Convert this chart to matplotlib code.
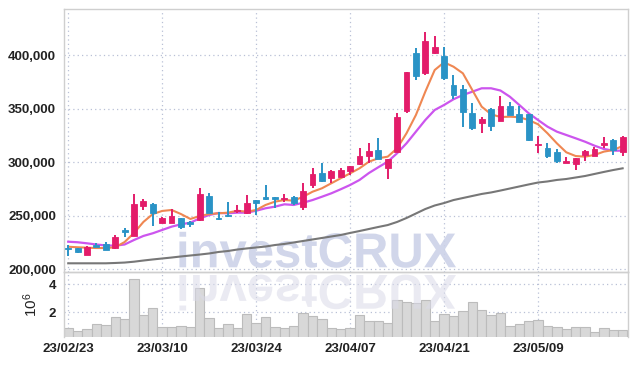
import numpy as np
import pandas as pd
import matplotlib
matplotlib.use("Agg")
import matplotlib.pyplot as plt
from matplotlib.textpath import TextPath
from matplotlib.patches import PathPatch
from matplotlib.font_manager import FontProperties
from matplotlib.transforms import Affine2D
from matplotlib.ticker import FuncFormatter

# trading days (KRX holidays removed)
dates = pd.bdate_range("2023-02-23", "2023-05-22", freq="C",
                       holidays=["2023-03-01", "2023-05-01", "2023-05-05"])

opens = [220100, 219500, 213500, 222600, 223300, 219800, 236700, 231300, 259400, 261000,
         243500, 243500, 247600, 244400, 246000, 268800, 248200, 250700, 254500, 252300,
         264700, 267300, 267300, 265700, 267800, 258500, 278800, 289700, 285100, 286600,
         292200, 298200, 305900, 311500, 295000, 310000, 348300, 402100, 383900, 402100,
         399500, 372400, 368600, 345900, 337100, 349900, 339000, 352700, 345200, 345200,
         316500, 313100, 309700, 299700, 298200, 306900, 306200, 316200, 320900, 309400]
highs = [222600, 220200, 222000, 224800, 225400, 231700, 238800, 270100, 265400, 261500,
         249100, 256000, 248000, 245000, 275700, 271000, 253800, 263200, 260100, 269400,
         265200, 278800, 267800, 270100, 268300, 280400, 294400, 299700, 292500, 294400,
         297000, 313100, 317800, 322500, 303300, 346500, 384800, 407300, 421700, 418300,
         407700, 381700, 372400, 355300, 342700, 350900, 362400, 356200, 352700, 345500,
         324900, 318400, 312800, 305300, 304500, 311600, 314600, 324000, 321500, 324200]
lows = [212300, 215300, 213000, 220500, 217800, 219300, 230400, 231000, 255400, 240700,
        243000, 243000, 237600, 239800, 245500, 252500, 246000, 249100, 252300, 251800,
        250700, 264700, 257000, 263200, 260100, 255400, 276300, 281800, 280400, 286000,
        288100, 297500, 299100, 302900, 284100, 309500, 345900, 377100, 381500, 401500,
        377100, 359000, 332800, 330300, 327200, 329300, 338400, 344000, 337300, 320400,
        308500, 304100, 299100, 299400, 292800, 301000, 305500, 313100, 306900, 305900]
closes = [218600, 215800, 221000, 221000, 218200, 229800, 235100, 261000, 263500, 252300,
          247600, 249800, 239800, 242000, 270400, 253000, 247000, 249800, 255400, 261700,
          261700, 265700, 265700, 266300, 261700, 273200, 288800, 282800, 291900, 292800,
          296600, 305900, 310600, 303400, 302800, 342200, 384300, 381100, 413600, 408200,
          379200, 363000, 347400, 332400, 340600, 334300, 352700, 344300, 338000, 320900,
          317200, 306200, 301500, 301300, 303800, 310600, 312500, 317800, 311500, 323700]
volumes = [840000, 620000, 760000, 1130000, 1050000, 1620000, 1480000, 4410000, 1770000, 2260000,
           900000, 900000, 990000, 900000, 3760000, 1550000, 840000, 1120000, 840000, 1830000,
           1190000, 1620000, 920000, 840000, 980000, 1900000, 1710000, 1490000, 840000, 770000,
           840000, 1790000, 1340000, 1340000, 1200000, 2850000, 2700000, 2690000, 2850000, 1340000,
           1860000, 1710000, 2070000, 2760000, 2140000, 1790000, 1930000, 1000000, 1140000, 1360000,
           1430000, 1000000, 930000, 790000, 930000, 930000, 570000, 830000, 710000, 710000]

ma5 = [221000, 220500, 220100, 219800, 219800, 220500, 225400, 233900, 244200, 251600,
       254500, 255400, 251600, 247000, 249800, 251600, 252300, 252900, 254700, 253800,
       255400, 260100, 263200, 264700, 264100, 267800, 272500, 275700, 280400, 285100,
       289700, 294400, 300600, 303800, 305300, 313100, 327200, 344300, 366100, 386400,
       393600, 389500, 383300, 367700, 352100, 345000, 342400, 342700, 342200, 339600,
       335600, 327200, 317800, 309400, 305900, 305300, 306900, 310000, 311500, 315300]
ma10 = [225700, 225200, 224200, 223100, 222200, 222000, 223100, 227300, 231100, 233600,
        236700, 239800, 242000, 243500, 247600, 250700, 252600, 252300, 252900, 252900,
        254700, 257000, 258500, 260700, 260100, 262200, 264700, 267800, 271000, 274800,
        278800, 283500, 290000, 295400, 300600, 308500, 317800, 328700, 339600, 349000,
        353700, 359000, 363000, 366100, 369300, 369300, 367200, 361400, 353700, 345900,
        339600, 333400, 328700, 325600, 322500, 319300, 315600, 312500, 310900, 310900]
ma_long = [205500, 205500, 205500, 205500, 205500, 205800, 206200, 207000, 208100, 209100,
           210000, 210900, 211900, 212800, 213700, 214700, 216100, 217000, 218400, 219400,
           220300, 221200, 222600, 223600, 225000, 226400, 227800, 229200, 230600, 232000,
           233900, 235700, 237600, 239500, 241300, 244200, 247900, 252100, 256300, 259600,
           261900, 264700, 266600, 268500, 270400, 271800, 273600, 275500, 277400, 279300,
           281100, 282100, 283500, 284400, 285800, 287200, 289100, 291000, 292800, 294400]

up_color = "#e31c6a"
down_color = "#2a93c6"
grid_color = "#b9c0d6"
tick_font = "Liberation Sans"

fig = plt.figure(figsize=(6.37, 3.66), dpi=100)
ax = fig.add_axes([0.1009, 0.2555, 0.8854, 0.7199])
axv = fig.add_axes([0.1009, 0.0779, 0.8854, 0.1776], sharex=ax)
axv.set_facecolor("none")

x = np.arange(len(dates))
o = np.array(opens); c = np.array(closes)
h = np.array(highs); l = np.array(lows)
colors = np.where(c >= o, up_color, down_color)

ax.vlines(x, l, h, colors=colors, linewidth=1.4, zorder=3)
body_h = np.maximum(np.abs(c - o), 900)
ax.bar(x, body_h, bottom=np.minimum(o, c), width=0.62, color=colors,
       edgecolor=colors, linewidth=0.6, zorder=4)

ax.plot(x, ma_long, color="#777777", linewidth=1.5, zorder=2.5)
ax.plot(x, ma10, color="#cc55ee", linewidth=1.6, zorder=2.6)
ax.plot(x, ma5, color="#ef8752", linewidth=1.5, zorder=2.7)

axv.bar(x, volumes, width=1.0, color="#d8d8d8", edgecolor="#bcbcbc",
        linewidth=0.8, zorder=2)

# watermark + its reflection, placed in pixel coords
fp = FontProperties(family="Liberation Sans", weight="bold")
tp = TextPath((0, 0), "investCRUX", size=49, prop=fp)
wm = PathPatch(tp, transform=Affine2D().translate(176, 98.7),
               facecolor="#ccd2e8", edgecolor="none", alpha=0.9, zorder=1.5)
ax.add_artist(wm)
wm2 = PathPatch(tp, transform=Affine2D().scale(1, -1).translate(176, 91),
                facecolor="#dadae8", edgecolor="none", alpha=0.55, zorder=3)
axv.add_artist(wm2)

xticks = np.arange(0, len(dates), 10)
for a in (ax, axv):
    a.set_xticks(xticks)
    a.grid(True, linestyle=(0, (1, 2.5)), color=grid_color, linewidth=0.9, zorder=0)
    a.set_axisbelow(True)
    a.tick_params(length=0, pad=6, labelsize=9.5, colors="#222222")
    for s in a.spines.values():
        s.set_color("#cfcfcf")
        s.set_linewidth(1.0)

ax.set_xlim(-0.42, len(dates) - 0.4)
ax.set_ylim(196900, 443500)
ax.set_yticks(np.arange(200000, 400001, 50000))
ax.yaxis.set_major_formatter(FuncFormatter(lambda v, p: f"{int(v):,}"))
ax.tick_params(axis="x", labelbottom=False)

axv.set_ylim(0.3 * min(volumes), 1.1 * max(volumes))
axv.set_yticks([2e6, 4e6])
axv.yaxis.set_major_formatter(FuncFormatter(lambda v, p: f"{v / 1e6:g}"))
axv.set_xticklabels([d.strftime("%y/%m/%d") for d in dates[xticks]])
axv.tick_params(axis="x", pad=4)
axv.set_ylabel(r"$\mathregular{10^6}$", fontsize=11, family=tick_font,
               color="#222222", labelpad=6)
axv.spines["bottom"].set_visible(False)

for lab in ax.get_yticklabels() + axv.get_yticklabels() + axv.get_xticklabels():
    lab.set_family(tick_font)
    lab.set_fontweight("bold")

fig.savefig("out.png", dpi=100)
